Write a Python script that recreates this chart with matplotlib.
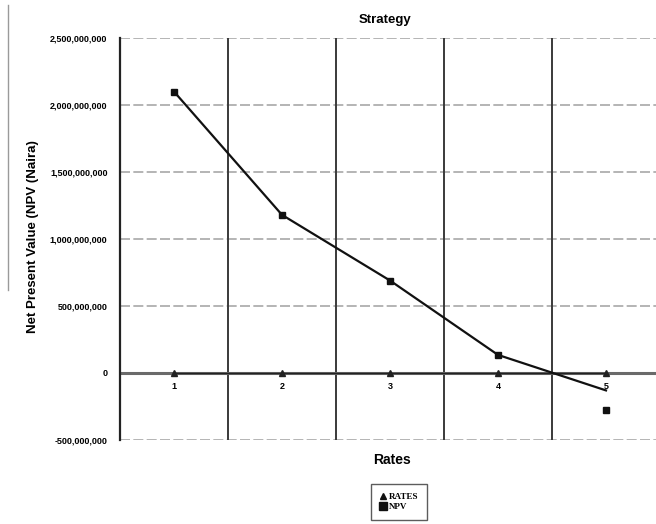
import matplotlib
matplotlib.use("Agg")
import matplotlib.pyplot as plt
from matplotlib.lines import Line2D
from matplotlib.ticker import FuncFormatter

categories = ["1", "2", "3", "4", "5"]
rates = [0.05, 0.10, 0.15, 0.20, 0.25]
npv = [2.10e9, 1.18e9, 0.69e9, 0.135e9, -0.13e9]
npv_end_marker = -0.275e9
y_ticks = [-5e8, 0, 5e8, 1e9, 1.5e9, 2e9, 2.5e9]

W, H = 656, 524
fig = plt.figure(figsize=(W / 100, H / 100), dpi=100)
fig.patch.set_facecolor("white")

left_px, right_px, top_px, bottom_px = 120, 656, 38, 440
cat_w = 108
ax = fig.add_axes([left_px / W, 1 - bottom_px / H,
                   (right_px - left_px) / W, (bottom_px - top_px) / H])

x = list(range(1, len(categories) + 1))
ax.set_xlim(0.5, 0.5 + (right_px - left_px) / cat_w)
ax.set_ylim(-5e8, 2.5e9)

# gridlines
for yv in y_ticks:
    ax.axhline(yv, color="#a8a8a8", lw=1.2, ls=(0, (6, 2)), zorder=1)
for xv in [1.5, 2.5, 3.5, 4.5]:
    ax.axvline(xv, color="#3a3a3a", lw=1.4, zorder=1)
ax.axhline(0, color="#6a6a6a", lw=2.2, zorder=2)

# series
ax.plot(x, rates, color="#222222", lw=1.0, marker="^", ms=4.5,
        markerfacecolor="#222222", markeredgecolor="#222222", zorder=3)
ax.plot(x, npv, color="#111111", lw=1.6, marker="s", ms=4,
        markevery=[0, 1, 2, 3], markerfacecolor="#111111", zorder=4)
ax.plot([x[-1]], [npv_end_marker], ls="none", marker="s", ms=4.5,
        color="#111111", zorder=4)

for s in ["top", "right", "bottom"]:
    ax.spines[s].set_visible(False)
ax.spines["left"].set_color("#222222")
ax.spines["left"].set_linewidth(1.6)

ax.set_yticks(y_ticks)
ax.yaxis.set_major_formatter(FuncFormatter(lambda v, p: f"{int(round(v)):,}"))
ax.tick_params(axis="y", length=0, pad=9, labelsize=6.5)
for lab in ax.get_yticklabels():
    lab.set_fontfamily("Liberation Sans")
    lab.set_fontweight("bold")

# category labels sit just under the zero line
ax.set_xticks([])
for xi, c in zip(x, categories):
    ax.text(xi, -0.07e9, c, ha="center", va="top", fontsize=6.5,
            fontweight="bold", family="Liberation Sans", zorder=5)

fig.text(385 / W, 1 - 20 / H, "Strategy", ha="center", va="center",
         fontsize=9.5, fontweight="bold", family="Liberation Sans")
fig.text(33 / W, 1 - 237 / H, "Net Present Value (NPV (Naira)", rotation=90,
         ha="center", va="center", fontsize=9.5, fontweight="bold",
         family="Liberation Sans")
fig.text(392 / W, 1 - 460 / H, "Rates", ha="center", va="center",
         fontsize=10, fontweight="bold", family="Liberation Sans")

handles = [
    Line2D([], [], ls="none", marker="^", ms=5, color="#111111", label="RATES"),
    Line2D([], [], ls="none", marker="s", ms=6, color="#111111", label="NPV"),
]
leg = fig.legend(handles=handles, loc="center", bbox_to_anchor=(399 / W, 1 - 502 / H),
                 frameon=True, fancybox=False, edgecolor="#333333",
                 prop={"family": "Liberation Serif", "weight": "bold", "size": 6.5},
                 handlelength=0.8, handletextpad=0.2, labelspacing=0.2,
                 borderpad=1.0, borderaxespad=0)
leg.get_frame().set_linewidth(1.0)

# page edge on the left
fig.add_artist(Line2D([8 / W, 8 / W], [1 - 5 / H, 1 - 290 / H],
                      color="#9a9a9a", lw=1.0, transform=fig.transFigure))

fig.savefig("out.png", dpi=100, facecolor="white")
